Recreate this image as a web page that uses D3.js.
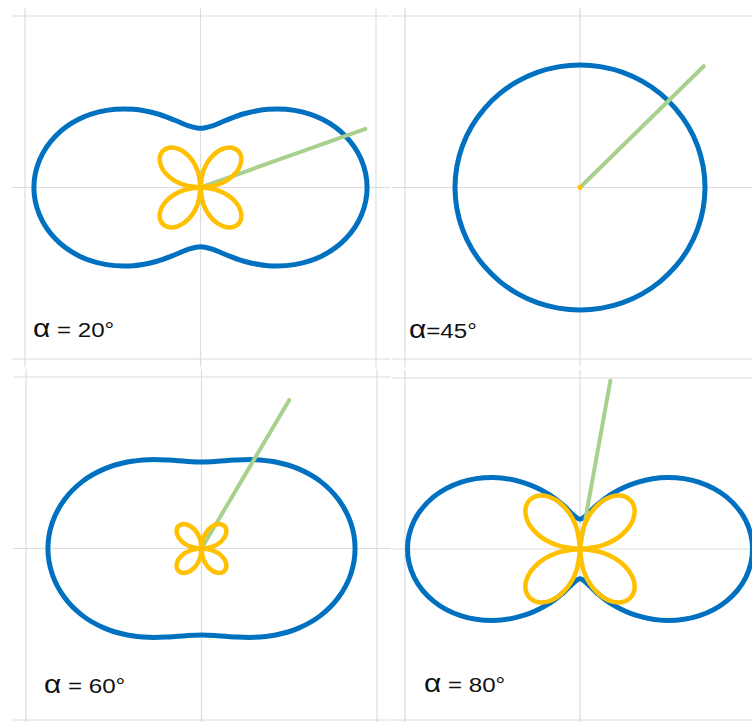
<!DOCTYPE html>
<html>
<head>
<meta charset="utf-8">
<script src="https://cdn.jsdelivr.net/npm/d3@7"></script>
<style>
  html, body { margin: 0; padding: 0; background: #fff; }
  svg { display: block; }
</style>
</head>
<body>
<svg id="chart" width="752" height="722"></svg>
<script>
// Polarizer angle of each panel, in degrees
const alphas = [20, 45, 60, 80];
// Label pieces: separator and value after the α symbol
const labelSep = [" = ", "=", " = ", " = "];
const labelValue = ["20°", "45°", "60°", "80°"];

// Sample angles over the first quadrant (degrees); the curves are mirror-symmetric
const sampleAngles = [0, 10, 20, 30, 40, 50, 60, 70, 80, 90];

// Outer (blue) curve radius at each sample angle
const outer20 = [1.329, 1.303, 1.230, 1.118, 0.979, 0.833, 0.695, 0.582, 0.509, 0.483];
const outer45 = [1.000, 1.000, 1.000, 1.000, 1.000, 1.000, 1.000, 1.000, 1.000, 1.000];
const outer60 = [1.225, 1.209, 1.164, 1.096, 1.011, 0.921, 0.837, 0.768, 0.723, 0.707];
const outer80 = [1.380, 1.346, 1.247, 1.096, 0.911, 0.713, 0.528, 0.377, 0.278, 0.244];

// Four-leaf (orange) curve radius at each sample angle
const inner20 = [0, 0.145, 0.272, 0.366, 0.417, 0.417, 0.366, 0.272, 0.145, 0];
const inner45 = [0, 0, 0, 0, 0, 0, 0, 0, 0, 0];
const inner60 = [0, 0.089, 0.166, 0.224, 0.255, 0.255, 0.224, 0.166, 0.089, 0];
const inner80 = [0, 0.194, 0.365, 0.492, 0.559, 0.559, 0.492, 0.365, 0.194, 0];

// Axis range and gridline positions (same for every panel)
const axisDomain = [-1.4, 1.4];
const gridTicks = [-1.4, 0, 1.4];

const outerSets = [outer20, outer45, outer60, outer80];
const innerSets = [inner20, inner45, inner60, inner80];

// Panel plot boxes in page pixels and label placement
const layout = [
  { left: 25,  right: 376, top: 16,  bottom: 359, lx: 33,  ly: 337 },
  { left: 405, right: 755, top: 16,  bottom: 359, lx: 409, ly: 338 },
  { left: 26,  right: 377, top: 377, bottom: 720, lx: 44,  ly: 693 },
  { left: 405, right: 755, top: 378, bottom: 720, lx: 424, ly: 692 }
];

const colors = { outer: "#0070c0", inner: "#ffc000", ray: "#a9d18e", grid: "#dcdcdc" };
const rad = d => d * Math.PI / 180;

// Radius at any multiple of 10 degrees, folded into the first quadrant
function radiusAt(values, deg) {
  let t = ((deg % 180) + 180) % 180;
  if (t > 90) t = 180 - t;
  return values[sampleAngles.indexOf(t)];
}

const svg = d3.select("#chart");

alphas.forEach((alpha, i) => {
  const box = layout[i];
  const x = d3.scaleLinear().domain(axisDomain).range([box.left, box.right]);
  const y = d3.scaleLinear().domain(axisDomain).range([box.bottom, box.top]);
  const g = svg.append("g").attr("class", "panel");

  // gridlines, running slightly past the plot box
  g.selectAll("line.h").data(gridTicks).join("line")
    .attr("class", "h")
    .attr("x1", box.left - 13).attr("x2", box.right + 14)
    .attr("y1", d => y(d)).attr("y2", d => y(d))
    .attr("stroke", colors.grid).attr("stroke-width", 1.2);
  g.selectAll("line.v").data(gridTicks).join("line")
    .attr("class", "v")
    .attr("y1", box.top - 8).attr("y2", box.bottom + 8)
    .attr("x1", d => x(d)).attr("x2", d => x(d))
    .attr("stroke", colors.grid).attr("stroke-width", 1.2);

  const polar = d3.line()
    .x(p => x(p.r * Math.cos(rad(p.a))))
    .y(p => y(p.r * Math.sin(rad(p.a))));

  // outer closed curve
  const ring = d3.range(0, 360, 10).map(a => ({ a, r: radiusAt(outerSets[i], a) }));
  g.append("path")
    .attr("d", polar.curve(d3.curveCatmullRomClosed.alpha(0.5))(ring))
    .attr("fill", "none")
    .attr("stroke", colors.outer)
    .attr("stroke-width", 5)
    .attr("stroke-linejoin", "round");

  // polarizer direction
  const L = axisDomain[1];
  g.append("line")
    .attr("x1", x(0)).attr("y1", y(0))
    .attr("x2", x(L * Math.cos(rad(alpha))))
    .attr("y2", y(L * Math.sin(rad(alpha))))
    .attr("stroke", colors.ray)
    .attr("stroke-width", 4)
    .attr("stroke-linecap", "round");

  // four leaves, each drawn from the centre and back
  const leafLine = d3.line()
    .x(p => x(p.r * Math.cos(rad(p.a))))
    .y(p => y(p.r * Math.sin(rad(p.a))))
    .curve(d3.curveCatmullRom.alpha(0.5));
  [0, 90, 180, 270].forEach(q => {
    const pts = sampleAngles.map(a => ({ a: q + a, r: radiusAt(innerSets[i], q + a) }));
    g.append("path")
      .attr("d", leafLine(pts))
      .attr("fill", "none")
      .attr("stroke", colors.inner)
      .attr("stroke-width", 4.5)
      .attr("stroke-linecap", "round")
      .attr("stroke-linejoin", "round");
  });

  // panel label
  const t = g.append("text")
    .attr("transform", `translate(${box.lx},${box.ly}) scale(1.15,1)`)
    .attr("font-family", "'Liberation Sans', Arial, sans-serif")
    .attr("font-size", 21)
    .attr("fill", "#111");
  t.append("tspan").attr("font-size", 26).text("α");
  t.append("tspan").text(labelSep[i] + labelValue[i]);
});
</script>
</body>
</html>
